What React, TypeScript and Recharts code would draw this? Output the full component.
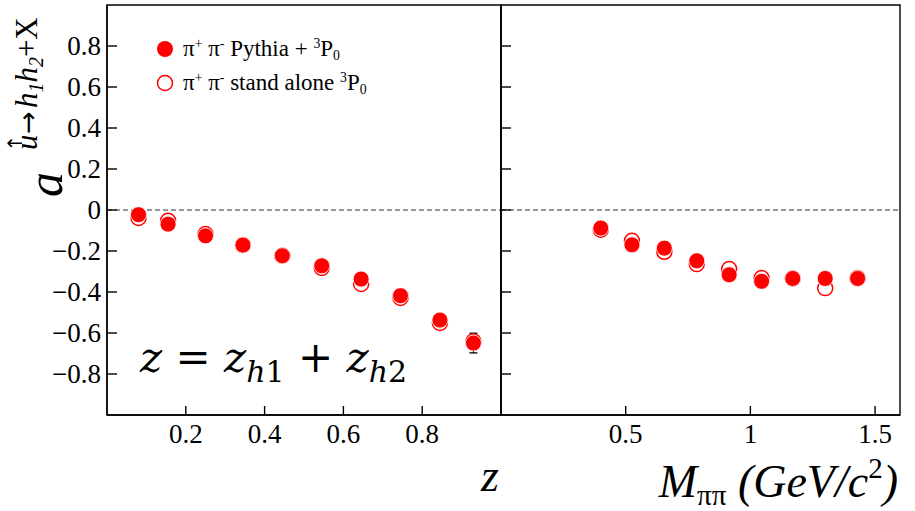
import React from 'react';
import { ScatterChart, Scatter, XAxis, YAxis, ReferenceLine, ReferenceArea, ErrorBar } from 'recharts';

// ---- data ----
const zBins = [0.08, 0.155, 0.25, 0.345, 0.445, 0.545, 0.645, 0.745, 0.845, 0.93];
const zPythia = [-0.023, -0.069, -0.126, -0.171, -0.223, -0.272, -0.337, -0.418, -0.537, -0.649];
const zPythiaErr = [0.008, 0.008, 0.008, 0.008, 0.008, 0.01, 0.012, 0.015, 0.02, 0.048];
const zStandAlone = [-0.039, -0.053, -0.117, -0.171, -0.223, -0.283, -0.361, -0.429, -0.551, -0.641];

const mBins = [0.4, 0.525, 0.655, 0.785, 0.915, 1.045, 1.17, 1.3, 1.43];
const mPythia = [-0.088, -0.17, -0.186, -0.248, -0.316, -0.348, -0.334, -0.334, -0.334];
const mPythiaErr = [0.008, 0.008, 0.008, 0.008, 0.01, 0.01, 0.01, 0.01, 0.01];
const mStandAlone = [-0.096, -0.15, -0.204, -0.264, -0.288, -0.332, -0.334, -0.381, -0.332];

const yTicks = [-0.8, -0.6, -0.4, -0.2, 0, 0.2, 0.4, 0.6, 0.8];
const zTicks = [0.2, 0.4, 0.6, 0.8];
const mTicks = [0.5, 1, 1.5];

const legendPythia = 'Pythia + ';
const legendStand = 'stand alone ';

const SERIF = '"Liberation Serif", "Times New Roman", serif';
const ARROWS = '"DejaVu Sans", sans-serif';
const RED = '#ff0000';

const build = (xs: number[], ys: number[], errs?: number[]) =>
  xs.map((x, i) => ({ x, y: ys[i], err: errs ? errs[i] : 0 }));

const zPythiaData = build(zBins, zPythia, zPythiaErr);
const zStandData = build(zBins, zStandAlone);
const mPythiaData = build(mBins, mPythia, mPythiaErr);
const mStandData = build(mBins, mStandAlone);

const fmt = (v: number) => {
  if (v === 0) return '0';
  const s = Math.abs(v).toString();
  return v < 0 ? '\u2212' + s : s;
};

const FilledDot = (p: any) => (
  <circle cx={p.cx} cy={p.cy} r={8} fill={RED} stroke="#fff" strokeWidth={0.8} />
);
const OpenDot = (p: any) => (
  <circle cx={p.cx} cy={p.cy} r={7.5} fill="none" stroke={RED} strokeWidth={1.5} />
);

const YTick = (withLabel: boolean) => (props: any) => {
  const { x, y, payload } = props;
  return (
    <g>
      <line x1={x} x2={x + 10} y1={y} y2={y} stroke="#000" strokeWidth={1.4} />
      {withLabel && (
        <text x={x - 6} y={y + 9} textAnchor="end" fontFamily={SERIF} fontSize={27} fill="#000">
          {fmt(payload.value)}
        </text>
      )}
    </g>
  );
};

const XTick = (props: any) => {
  const { x, y, payload } = props;
  return (
    <g>
      <line x1={x} x2={x} y1={y} y2={y - 9} stroke="#000" strokeWidth={1.4} />
      <text x={x} y={y + 28} textAnchor="middle" fontFamily={SERIF} fontSize={27} fill="#000">
        {fmt(payload.value)}
      </text>
    </g>
  );
};

const supStyle: React.CSSProperties = { fontSize: '0.6em', position: 'relative', top: '-0.55em' };
const subStyle: React.CSSProperties = { fontSize: '0.6em', position: 'relative', top: '0.3em' };

const LegendBox = () => (
  <div style={{ fontFamily: SERIF, fontSize: 23, color: '#000' }}>
    <div style={{ display: 'flex', alignItems: 'center', height: 34 }}>
      <svg width={18} height={18}>
        <circle cx={9} cy={9} r={8} fill={RED} />
      </svg>
      <span style={{ marginLeft: 9, whiteSpace: 'nowrap' }}>
        π<span style={supStyle}>+</span> π<span style={supStyle}>-</span> {legendPythia}
        <span style={supStyle}>3</span>P<span style={subStyle}>0</span>
      </span>
    </div>
    <div style={{ display: 'flex', alignItems: 'center', height: 34 }}>
      <svg width={18} height={18}>
        <circle cx={9} cy={9} r={7.5} fill="none" stroke={RED} strokeWidth={1.5} />
      </svg>
      <span style={{ marginLeft: 9, whiteSpace: 'nowrap' }}>
        π<span style={supStyle}>+</span> π<span style={supStyle}>-</span> {legendStand}
        <span style={supStyle}>3</span>P<span style={subStyle}>0</span>
      </span>
    </div>
  </div>
);

export default function App() {
  return (
    <div style={{ position: 'absolute', left: 0, top: 0, width: 915, height: 511, background: '#fff', overflow: 'hidden' }}>
      {/* left panel */}
      <div style={{ position: 'absolute', left: 0, top: 0 }}>
        <ScatterChart width={503} height={511} margin={{ top: 5, right: 2, bottom: 0, left: 47 }}>
          <XAxis
            type="number"
            dataKey="x"
            domain={[0, 1]}
            ticks={zTicks}
            allowDataOverflow
            height={96}
            tickSize={0}
            tickMargin={0}
            axisLine={{ stroke: '#000', strokeWidth: 1.4 }}
            tickLine={false}
            tick={XTick}
          />
          <YAxis
            type="number"
            dataKey="y"
            domain={[-1, 1]}
            ticks={yTicks}
            allowDataOverflow
            width={60}
            tickSize={0}
            tickMargin={0}
            axisLine={{ stroke: '#000', strokeWidth: 1.4 }}
            tickLine={false}
            tick={YTick(true)}
          />
          <ReferenceArea x1={0} x2={1} y1={-1} y2={1} fill="none" fillOpacity={0} stroke="#000" strokeWidth={1.4} />
          <ReferenceLine y={0} stroke="#333" strokeWidth={1.2} strokeDasharray="5 3" />
          <Scatter data={zStandData} shape={OpenDot} isAnimationActive={false} />
          <Scatter data={zPythiaData} shape={FilledDot} isAnimationActive={false}>
            <ErrorBar dataKey="err" direction="y" width={4} stroke="#000" strokeWidth={1.3} />
          </Scatter>
        </ScatterChart>
      </div>

      {/* right panel */}
      <div style={{ position: 'absolute', left: 441, top: 0 }}>
        <ScatterChart width={474} height={511} margin={{ top: 5, right: 15, bottom: 0, left: 0 }}>
          <XAxis
            type="number"
            dataKey="x"
            domain={[0, 1.6]}
            ticks={mTicks}
            allowDataOverflow
            height={96}
            tickSize={0}
            tickMargin={0}
            axisLine={{ stroke: '#000', strokeWidth: 1.4 }}
            tickLine={false}
            tick={XTick}
          />
          <YAxis
            type="number"
            dataKey="y"
            domain={[-1, 1]}
            ticks={yTicks}
            allowDataOverflow
            width={60}
            tickSize={0}
            tickMargin={0}
            axisLine={{ stroke: '#000', strokeWidth: 1.4 }}
            tickLine={false}
            tick={YTick(false)}
          />
          <ReferenceArea x1={0} x2={1.6} y1={-1} y2={1} fill="none" fillOpacity={0} stroke="#000" strokeWidth={1.4} />
          <ReferenceLine y={0} stroke="#333" strokeWidth={1.2} strokeDasharray="5 3" />
          <Scatter data={mStandData} shape={OpenDot} isAnimationActive={false} />
          <Scatter data={mPythiaData} shape={FilledDot} isAnimationActive={false}>
            <ErrorBar dataKey="err" direction="y" width={4} stroke="#000" strokeWidth={1.3} />
          </Scatter>
        </ScatterChart>
      </div>

      {/* legend */}
      <div style={{ position: 'absolute', left: 156, top: 32 }}>
        <LegendBox />
      </div>

      {/* text overlay: axis titles and annotation */}
      <svg width={915} height={511} style={{ position: 'absolute', left: 0, top: 0, pointerEvents: 'none' }}>
        <text transform="translate(62,197) rotate(-90)" fontFamily={SERIF} fill="#000">
          <tspan fontStyle="italic" fontSize={50}>a</tspan>
          <tspan fontStyle="italic" fontSize={31} dy={-25} dx={22}>u</tspan>
          <tspan fontFamily={ARROWS} fontSize={20} dy={-15} dx={-17}>↑</tspan>
          <tspan fontFamily={ARROWS} fontSize={27} dy={15} dx={1}>→</tspan>
          <tspan fontStyle="italic" fontSize={31} dx={3}>h</tspan>
          <tspan fontStyle="italic" fontSize={20} dy={6}>1</tspan>
          <tspan fontStyle="italic" fontSize={31} dy={-6}>h</tspan>
          <tspan fontStyle="italic" fontSize={20} dy={6}>2</tspan>
          <tspan fontSize={31} dy={-6}>+X</tspan>
        </text>

        <text x={140} y={372} fontFamily='"DejaVu Serif", serif' fontSize={42} fill="#000">
          <tspan fontStyle="italic">z</tspan>
          <tspan> = </tspan>
          <tspan fontStyle="italic">z</tspan>
          <tspan fontStyle="italic" fontSize={30} dy={10}>h</tspan>
          <tspan fontSize={30}>1</tspan>
          <tspan dy={-10}> + </tspan>
          <tspan fontStyle="italic">z</tspan>
          <tspan fontStyle="italic" fontSize={30} dy={10}>h</tspan>
          <tspan fontSize={30}>2</tspan>
        </text>

        <text x={490} y={491} textAnchor="middle" fontFamily={SERIF} fontStyle="italic" fontSize={46} fill="#000">
          z
        </text>

        <text x={898} y={497} textAnchor="end" fontFamily={SERIF} fontSize={46} fill="#000">
          <tspan fontStyle="italic">M</tspan>
          <tspan fontSize={29} dy={8}>ππ</tspan>
          <tspan fontStyle="italic" dy={-8}> (GeV/c</tspan>
          <tspan fontSize={29} dy={-19}>2</tspan>
          <tspan fontStyle="italic" dy={19}>)</tspan>
        </text>
      </svg>
    </div>
  );
}
